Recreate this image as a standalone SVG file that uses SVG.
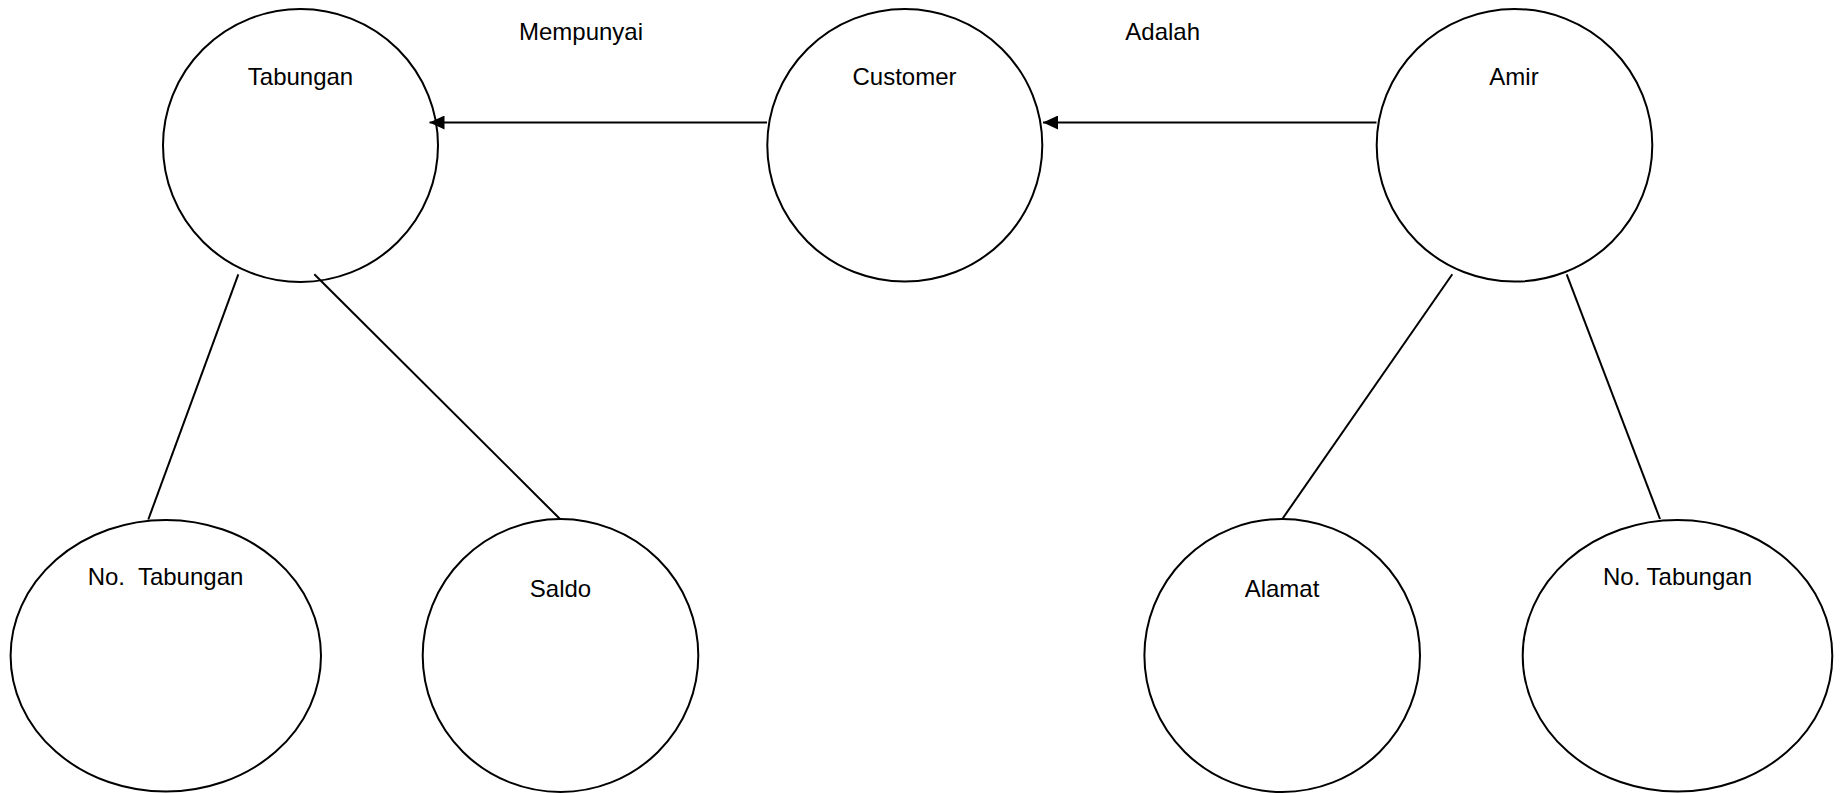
<svg xmlns="http://www.w3.org/2000/svg" width="1841" height="793" viewBox="0 0 1841 793">
  <style>
    .node { fill: #ffffff; stroke: #000000; stroke-width: 2; }
    .label { font-family: "Liberation Sans", Arial, sans-serif; font-size: 24px; fill: #000000; text-anchor: middle; }
    .edge { stroke: #000000; stroke-width: 2; fill: none; }
  </style>
  <defs>
    <marker id="arrow" markerUnits="userSpaceOnUse" markerWidth="16" markerHeight="14" refX="15" refY="7" orient="auto">
      <path d="M0,0 L15,7 L0,14 z" fill="#000000"/>
    </marker>
  </defs>
  <rect width="1841" height="793" fill="#ffffff"/>

  <!-- relationship labels -->
  <g id="rel-mempunyai"><text class="label" x="581" y="39.5">Mempunyai</text></g>
  <g id="rel-adalah"><text class="label" x="1162.7" y="39.5">Adalah</text></g>

  <!-- nodes -->
  <g id="node-tabungan">
    <ellipse class="node" cx="300.5" cy="145.5" rx="137.5" ry="136.5"/>
    <text class="label" x="300.5" y="85">Tabungan</text>
  </g>
  <g id="node-customer">
    <ellipse class="node" cx="904.8" cy="145.3" rx="137.5" ry="136.3"/>
    <text class="label" x="904.5" y="85">Customer</text>
  </g>
  <g id="node-amir">
    <ellipse class="node" cx="1514.5" cy="145.3" rx="137.8" ry="136.3"/>
    <text class="label" x="1514" y="85">Amir</text>
  </g>
  <g id="node-no-tabungan-1">
    <ellipse class="node" cx="165.8" cy="655.8" rx="155.2" ry="135.8"/>
    <text class="label" x="165.5" y="585" xml:space="preserve">No.  Tabungan</text>
  </g>
  <g id="node-saldo">
    <ellipse class="node" cx="560.5" cy="655.5" rx="137.8" ry="136.5"/>
    <text class="label" x="560.5" y="596.5">Saldo</text>
  </g>
  <g id="node-alamat">
    <ellipse class="node" cx="1282.2" cy="655.5" rx="137.8" ry="136.5"/>
    <text class="label" x="1282" y="596.5">Alamat</text>
  </g>
  <g id="node-no-tabungan-2">
    <ellipse class="node" cx="1677.5" cy="655.8" rx="154.8" ry="135.8"/>
    <text class="label" x="1677.5" y="585">No. Tabungan</text>
  </g>

  <!-- connectors, drawn above the nodes -->
  <g id="connectors">
    <line class="edge" x1="767" y1="122.5" x2="429.5" y2="122.5" marker-end="url(#arrow)"/>
    <line class="edge" x1="1376.5" y1="122.5" x2="1043" y2="122.5" marker-end="url(#arrow)"/>
    <line class="edge" x1="238.3" y1="274.3" x2="148.3" y2="519.5"/>
    <line class="edge" x1="314.3" y1="274.3" x2="560" y2="519"/>
    <line class="edge" x1="1452.3" y1="274.3" x2="1282.3" y2="519"/>
    <line class="edge" x1="1566.7" y1="274.3" x2="1660" y2="519"/>
  </g>
</svg>
